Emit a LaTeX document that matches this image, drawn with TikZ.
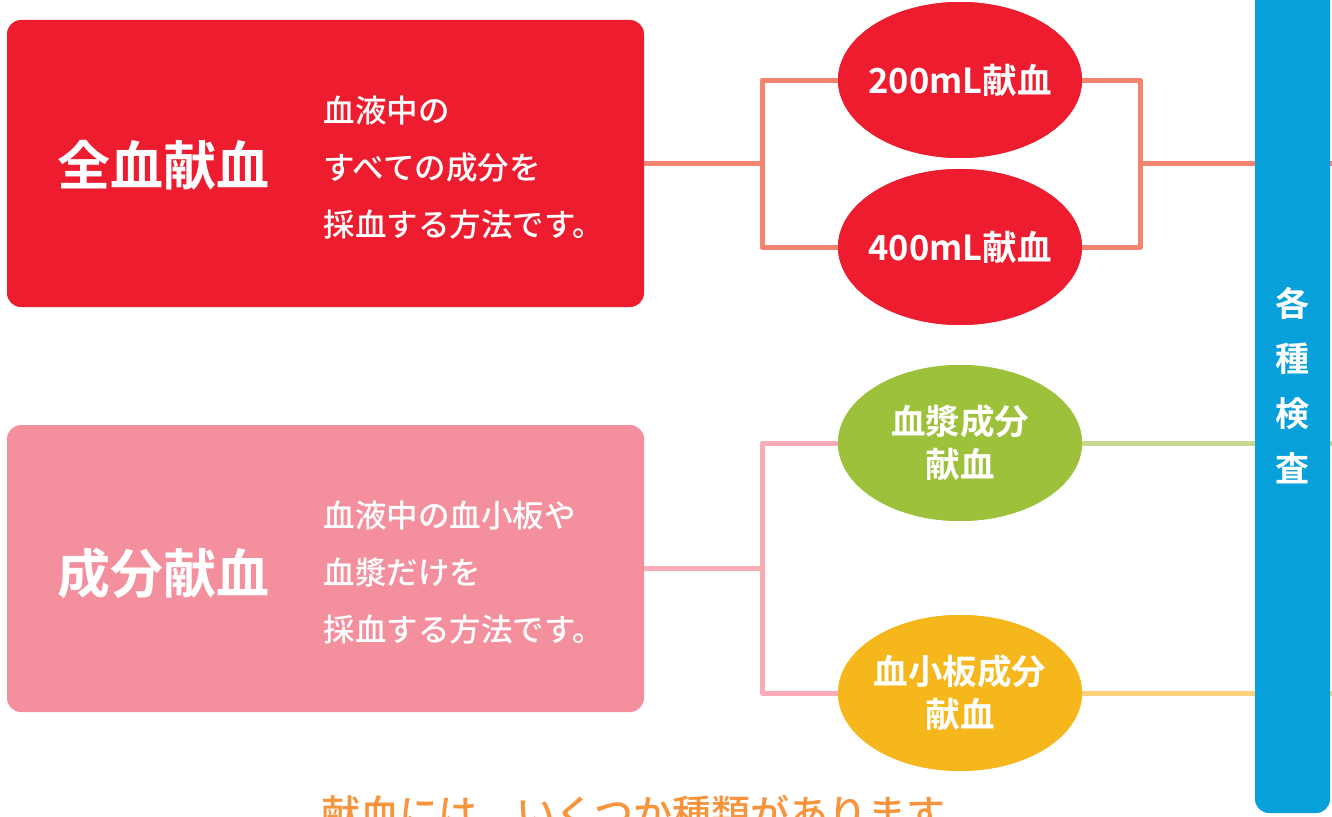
\documentclass[tikz,border=0pt]{standalone}
\usepackage{fontspec}
\setmainfont{Noto Sans CJK JP Medium}
\newfontfamily\jpbold{Noto Sans CJK JP Bold}
\usetikzlibrary{shapes.geometric}
\definecolor{bred}{HTML}{ED1C2E}
\definecolor{bpink}{HTML}{F48F9E}
\definecolor{lsalmon}{HTML}{F4846F}
\definecolor{lpink}{HTML}{F9ABB6}
\definecolor{bgreen}{HTML}{9DC13B}
\definecolor{lgreen}{HTML}{C8D88F}
\definecolor{byellow}{HTML}{F5B71C}
\definecolor{lyellow}{HTML}{FDD07C}
\definecolor{bblue}{HTML}{08A0DA}
\definecolor{borange}{HTML}{F7943C}
\begin{document}
\begin{tikzpicture}[x=1pt,y=-1pt,
  bigbox/.style={rounded corners=14pt,minimum width=637pt,minimum height=287pt,inner sep=0pt},
  oval/.style={ellipse,minimum width=244pt,minimum height=156pt,inner xsep=-40pt,inner ysep=-10pt,text=white,font=\jpbold\fontsize{34.5}{43}\selectfont,align=center},
  title/.style={text=white,font=\jpbold\fontsize{53}{60}\selectfont},
  desc/.style={text=white,font=\fontsize{31.5}{57}\selectfont,align=left,anchor=west},
  conn/.style={line width=5pt,line join=round}]
\useasboundingbox (0,0) rectangle (1332,816);
\fill[white] (0,0) rectangle (1332,816);
\coordinate (j1) at (762,163);
\coordinate (j2) at (1140,163);
\coordinate (j3) at (762,568);
\coordinate (r1) at (1332,163);
\coordinate (r2) at (1332,443);
\coordinate (r3) at (1332,693);
\node[bigbox,fill=bred] (whole) at (325.5,163.5) {};
\node[bigbox,fill=bpink] (comp) at (325.5,568.5) {};
\node[oval,fill=bred] (e200) at (960,80) {};
\node[oval,fill=bred] (e400) at (960,247) {};
\node[oval,fill=bgreen] (eplasma) at (960,443) {};
\node[oval,fill=byellow] (eplate) at (960,693) {};
\draw[conn,lsalmon] (whole.east |- j1) -- (j1);
\draw[conn,lsalmon] (e200.west) -| (j1) |- (e400.west);
\draw[conn,lsalmon] (e200.east) -| (j2) |- (e400.east);
\draw[conn,lsalmon] (j2) -- (r1);
\draw[conn,lpink] (comp.east |- j3) -- (j3);
\draw[conn,lpink] (eplasma.west) -| (j3) |- (eplate.west);
\draw[conn,lgreen] (eplasma.east) -- (r2);
\draw[conn,lyellow] (eplate.east) -- (r3);
% ovals on top of line ends
\node[oval,fill=bred] (o200) at (e200) {200mL献血};
\node[oval,fill=bred] (o400) at (e400) {400mL献血};
\node[oval,fill=bgreen] (oplasma) at (eplasma) {血漿成分\\献血};
\node[oval,fill=byellow] (oplate) at (eplate) {血小板成分\\献血};
% blue bar
\fill[bblue,rounded corners=14pt] (1255,-30) rectangle (1330,813);
\node[text=white,font=\jpbold\fontsize{34}{55}\selectfont,align=center] (exam) at (1292,386) {各\\種\\検\\査};
% titles and descriptions
\node[title] (t1) at (163,165) {全血献血};
\node[title] (t2) at (163,573) {成分献血};
\node[desc] (d1) at (320,168) {血液中の\\すべての成分を\\採血する方法です。};
\node[desc] (d2) at (320,573) {血液中の血小板や\\血漿だけを\\採血する方法です。};
% bottom caption (cut off by the lower edge, as in the reference)
\node[anchor=west,text=borange,font=\fontsize{39}{42}\selectfont] (cap) at (318,813) {献血には、いくつか種類があります};
\end{tikzpicture}
\end{document}
